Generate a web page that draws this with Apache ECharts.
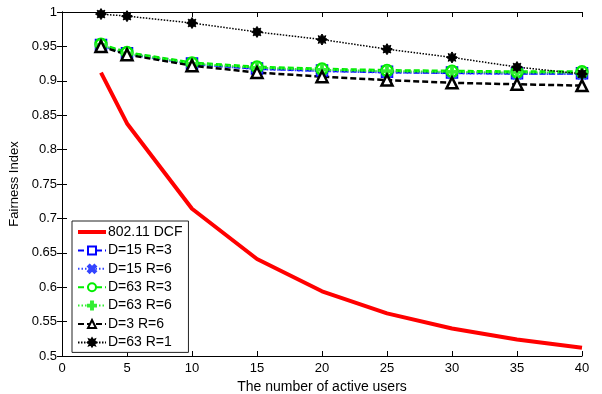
<!DOCTYPE html>
<html><head><meta charset="utf-8">
<script src="https://cdn.jsdelivr.net/npm/echarts@6/dist/echarts.min.js"></script>
<style>html,body{margin:0;padding:0;background:#fff}#c{width:602px;height:394px}</style>
</head><body><div id="c"></div>
<script>
const users = [3, 5, 10, 15, 20, 25, 30, 35, 40];
const dcf    = [0.912, 0.838, 0.714, 0.641, 0.594, 0.562, 0.540, 0.524, 0.512];
const d15r3  = [0.952, 0.940, 0.925, 0.918, 0.915, 0.913, 0.912, 0.911, 0.911];
const d15r6  = [0.951, 0.939, 0.924, 0.917, 0.914, 0.912, 0.911, 0.910, 0.910];
const d63r3  = [0.953, 0.941, 0.926, 0.920, 0.917, 0.915, 0.914, 0.913, 0.913];
const d63r6  = [0.952, 0.940, 0.925, 0.919, 0.916, 0.914, 0.913, 0.912, 0.912];
const d3r6   = [0.950, 0.938, 0.922, 0.912, 0.906, 0.901, 0.897, 0.895, 0.893];
const d63r1  = [0.997, 0.994, 0.984, 0.971, 0.960, 0.946, 0.934, 0.920, 0.910];
const names = ['802.11 DCF','D=15 R=3','D=15 R=6','D=63 R=3','D=63 R=6','D=3 R=6','D=63 R=1'];

const pair = arr => users.map((u,i)=>[u, arr[i]]);
const XSYM = 'path://M2,0 L5,3 L8,0 L10,2 L7,5 L10,8 L8,10 L5,7 L2,10 L0,8 L3,5 L0,2 Z';
const PSYM = 'path://M3.8,0 H6.2 V3.8 H10 V6.2 H6.2 V10 H3.8 V6.2 H0 V3.8 H3.8 Z';
const SSYM = 'path://M5,0 L6.5,2.3 L8.5,1.5 L7.7,3.5 L10,5 L7.7,6.5 L8.5,8.5 L6.5,7.7 L5,10 L3.5,7.7 L1.5,8.5 L2.3,6.5 L0,5 L2.3,3.5 L1.5,1.5 L3.5,2.3 Z';
const LINEICON = 'path://M0,0 H28 V4 H0 Z';
const FONT = 'Liberation Sans';
const chart = echarts.init(document.getElementById('c'), null, {renderer:'canvas'});
function ser(name, data, color, width, dash, symbol, size, empty){
  return {
    name, type:'line', data:pair(data), xAxisIndex:0, yAxisIndex:0,
    symbol: symbol || 'none', symbolSize: size || 0, showSymbol: !!symbol,
    lineStyle:{color, width, type: dash},
    itemStyle: empty ? {color:'#fff', borderColor:color, borderWidth:2.5} : {color, borderColor:color, borderWidth:1},
    emphasis:{disabled:true}, animation:false
  };
}
chart.setOption({
  animation:false,
  grid:{left:62, right:20, top:12, bottom:38, show:false, containLabel:false, outerBoundsMode:'none'},
  legend:{
    orient:'vertical', left:72, top:221, backgroundColor:'#fff',
    borderColor:'#222', borderWidth:1, borderRadius:0, padding:[4,6,3,5],
    itemWidth:28, itemHeight:10, itemGap:4.4,
    textStyle:{fontFamily:FONT, fontSize:14, lineHeight:14, color:'#000', padding:[0,0,0,-3]},
    data:[{name:names[0], icon:LINEICON, itemStyle:{color:'#ff0000', borderWidth:0}}].concat(names.slice(1))
  },
  xAxis:[{
    type:'value', min:0, max:40, interval:5, position:'bottom',
    name:'The number of active users', nameLocation:'middle', nameGap:19,
    nameTextStyle:{fontFamily:FONT, fontSize:14, color:'#000'},
    axisLine:{lineStyle:{color:'#000', width:1}},
    axisTick:{inside:true, length:5, lineStyle:{color:'#000'}},
    axisLabel:{fontFamily:FONT, fontSize:13, color:'#000', margin:6},
    splitLine:{show:false}
  },{
    type:'value', min:0, max:40, interval:5, position:'top',
    axisLine:{lineStyle:{color:'#000', width:1}},
    axisTick:{inside:true, length:5, lineStyle:{color:'#000'}},
    axisLabel:{show:false}, splitLine:{show:false}
  }],
  yAxis:[{
    type:'value', min:0.5, max:1, interval:0.05, position:'left',
    name:'Fairness Index', nameLocation:'middle', nameGap:36, nameRotate:90,
    nameTextStyle:{fontFamily:FONT, fontSize:13, color:'#000'},
    axisLine:{show:true, lineStyle:{color:'#000', width:1}},
    axisTick:{show:true, inside:true, length:5, lineStyle:{color:'#000'}},
    axisLabel:{fontFamily:FONT, fontSize:13, color:'#000', margin:5,
      formatter: v => String(+v.toFixed(2))},
    splitLine:{show:false}
  },{
    type:'value', min:0.5, max:1, interval:0.05, position:'right',
    axisLine:{show:true, lineStyle:{color:'#000', width:1}},
    axisTick:{show:true, inside:true, length:5, lineStyle:{color:'#000'}},
    axisLabel:{show:false}, splitLine:{show:false}
  }],
  series:[
    ser(names[0], dcf, '#ff0000', 4, 'solid'),
    ser(names[1], d15r3, '#0000ff', 3, [6,3], 'rect', 10, true),
    ser(names[2], d15r6, '#3344ff', 2, [1.5,2], XSYM, 11, false),
    ser(names[3], d63r3, '#00ee00', 3, [6,3], 'circle', 11, true),
    ser(names[4], d63r6, '#33ee33', 2, [1.5,2], PSYM, 11, false),
    ser(names[5], d3r6, '#000000', 2.5, [6,3], 'triangle', 11, true),
    ser(names[6], d63r1, '#000000', 1.5, [1.5,1.5], SSYM, 11, false)
  ]
});
</script></body></html>
